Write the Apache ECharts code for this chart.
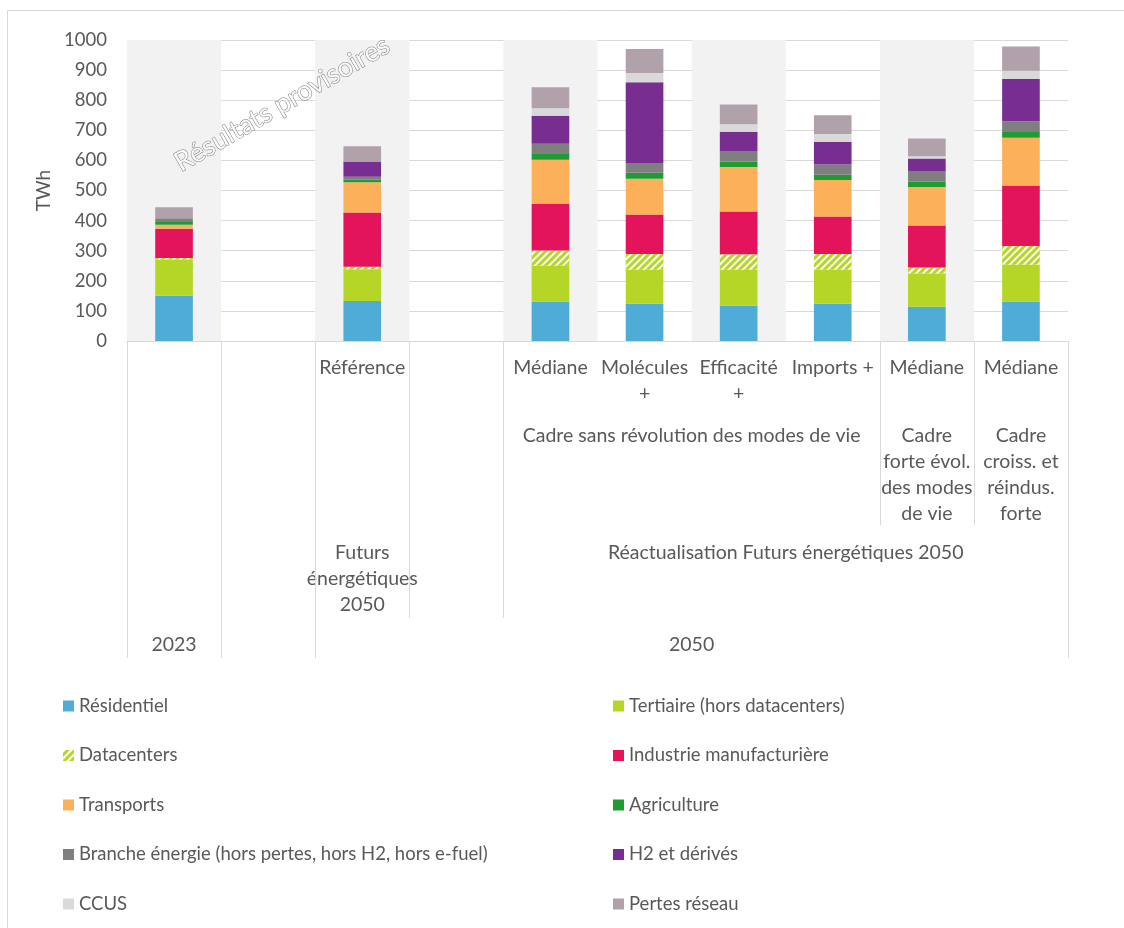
<!DOCTYPE html>
<html>
<head>
<meta charset="utf-8">
<script src="https://cdn.jsdelivr.net/npm/echarts@6/dist/echarts.min.js"></script>
<style>
  html, body { margin: 0; padding: 0; background: #fff; }
  #chart { width: 1124px; height: 928px; }
</style>
</head>
<body>
<div id="chart"></div>
<script>
// niveau 1 : scénarios (une catégorie par barre, 2 colonnes vides servent d'espacement)
const scenarios = ['', '', 'Référence', '', 'Médiane', 'Molécules\n+', 'Efficacité\n+', 'Imports +', 'Médiane', 'Médiane'];
// niveaux supérieurs : [début, fin, texte]
const cadres = [
    [4, 7, 'Cadre sans révolution des modes de vie'],
    [8, 8, 'Cadre\nforte évol.\ndes modes\nde vie'],
    [9, 9, 'Cadre\ncroiss. et\nréindus.\nforte'],
];
const sources = [
    [2, 2, 'Futurs\nénergétiques\n2050'],
    [4, 9, 'Réactualisation Futurs énergétiques 2050'],
];
const years = [
    [0, 0, '2023'],
    [2, 9, '2050'],
];
// séparateurs verticaux : [frontière, nombre de niveaux traversés]
const separators = [[0, 4], [1, 4], [2, 4], [3, 3], [4, 3], [8, 2], [9, 2], [10, 4]];

const yTicks = [0, 100, 200, 300, 400, 500, 600, 700, 800, 900, 1000];

// TWh par poste
const residentiel = [150, null, 133, null, 131, 124, 117, 124, 114, 131];
const tertiaire = [121, null, 105, null, 119, 113, 120, 113, 110, 122];
const datacenters = [5, null, 9, null, 51, 52, 51, 52, 20, 63];
const industrie = [97, null, 180, null, 154, 131, 142, 125, 140, 201];
const transports = [13, null, 100, null, 147, 119, 148, 121, 128, 158];
const agriculture = [9, null, 9, null, 19, 20, 18, 17, 17, 19];
const branche = [13, null, 10, null, 34, 32, 35, 34, 36, 36];
const h2 = [0, null, 50, null, 93, 269, 64, 76, 41, 141];
const ccus = [0, null, 0, null, 25, 30, 25, 26, 8, 27];
const pertes = [36, null, 51, null, 70, 80, 66, 62, 59, 80];

const FONT = 'Lato';
const TXT = '#595959';
const GRID_LINE = '#d9d9d9';

const chart = echarts.init(document.getElementById('chart'));

const mkBar = (name, data, color, extra) => ({
    name: name,
    type: 'bar',
    stack: 'total',
    barWidth: '40%',
    data: data,
    itemStyle: Object.assign({ color: color }, extra || {}),
    emphasis: { disabled: true },
});

// libellés des niveaux de l'axe, placés via l'échelle de l'axe x
const rowTops = [14, 82, 199, 291];
const levelBottoms = [0, 70, 184, 277, 317];
const labelItems = [];
const labelTexts = [];
scenarios.forEach((s, i) => {
    labelItems.push([i, i, 0]);
    labelTexts.push(s);
});
[cadres, sources, years].forEach((lvl, k) => {
    lvl.forEach((g) => {
        labelItems.push([g[0], g[1], k + 1]);
        labelTexts.push(g[2]);
    });
});

const legendText = { color: TXT, fontSize: 18.5, fontFamily: FONT, lineHeight: 20 };

const option = {
    animation: false,
    textStyle: { fontFamily: FONT },
    grid: { left: 127, right: 56, top: 40, bottom: 587 },
    graphic: [
        {
            type: 'rect',
            shape: { x: 7.5, y: 10.5, width: 1200, height: 1000 },
            style: { fill: 'none', stroke: GRID_LINE, lineWidth: 1 },
            silent: true,
        },
        {
            type: 'text',
            x: 282,
            y: 104,
            rotation: Math.PI / 6,
            style: {
                text: 'Résultats provisoires',
                font: '27px ' + FONT,
                fill: 'rgba(255,255,255,0.9)',
                stroke: '#7f7f7f',
                lineWidth: 1,
                align: 'center',
                verticalAlign: 'middle',
            },
            z: 100,
        },
    ],
    legend: [
        {
            orient: 'vertical',
            left: 63,
            top: 696,
            padding: 0,
            itemWidth: 11,
            itemHeight: 11,
            itemGap: 29.5,
            icon: 'rect',
            textStyle: legendText,
            data: ['Résidentiel', 'Datacenters', 'Transports', 'Branche énergie (hors pertes, hors H2, hors e-fuel)', 'CCUS'],
        },
        {
            orient: 'vertical',
            left: 613,
            top: 696,
            padding: 0,
            itemWidth: 11,
            itemHeight: 11,
            itemGap: 29.5,
            icon: 'rect',
            textStyle: legendText,
            data: ['Tertiaire (hors datacenters)', 'Industrie manufacturière', 'Agriculture', 'H2 et dérivés', 'Pertes réseau'],
        },
    ],
    xAxis: {
        type: 'category',
        data: scenarios,
        axisLine: { show: true, lineStyle: { color: GRID_LINE } },
        axisTick: { show: false },
        axisLabel: { show: false },
        splitArea: { show: true, areaStyle: { color: ['#f2f2f2', 'rgba(255,255,255,0)'] } },
    },
    yAxis: {
        type: 'value',
        min: 0,
        max: 1000,
        interval: 100,
        name: 'TWh',
        nameLocation: 'middle',
        nameGap: 72,
        nameTextStyle: { color: TXT, fontSize: 19, fontFamily: FONT },
        axisLine: { show: false },
        axisTick: { show: false },
        axisLabel: {
            color: TXT,
            fontSize: 18.5,
            fontFamily: FONT,
            margin: 20,
            formatter: (v) => (yTicks.indexOf(v) >= 0 ? String(v) : ''),
        },
        splitLine: { lineStyle: { color: GRID_LINE } },
    },
    series: [
        mkBar('Résidentiel', residentiel, '#4eacd7'),
        mkBar('Tertiaire (hors datacenters)', tertiaire, '#b5d627'),
        mkBar('Datacenters', datacenters, '#b5d627', {
            decal: {
                symbol: 'rect',
                symbolSize: 1,
                color: 'rgba(255,255,255,0.95)',
                dashArrayX: [1, 0],
                dashArrayY: [2, 3],
                rotation: -Math.PI / 4,
            },
        }),
        mkBar('Industrie manufacturière', industrie, '#e3135c'),
        mkBar('Transports', transports, '#fdb05a'),
        mkBar('Agriculture', agriculture, '#1e9b32'),
        mkBar('Branche énergie (hors pertes, hors H2, hors e-fuel)', branche, '#7f7f7f'),
        mkBar('H2 et dérivés', h2, '#782e91'),
        mkBar('CCUS', ccus, '#d9d9d9'),
        mkBar('Pertes réseau', pertes, '#b0a1aa'),
        {
            // libellés multi-niveaux sous l'axe
            type: 'custom',
            clip: false,
            silent: true,
            encode: { x: [0, 1], y: 2 },
            data: labelItems,
            renderItem: (params, api) => {
                const x0 = api.coord([api.value(0), 0])[0];
                const x1 = api.coord([api.value(1), 0])[0];
                const cs = params.coordSys;
                return {
                    type: 'text',
                    x: (x0 + x1) / 2,
                    y: cs.y + cs.height + rowTops[api.value(2)],
                    style: {
                        text: labelTexts[params.dataIndex],
                        align: 'center',
                        verticalAlign: 'top',
                        font: '19.5px ' + FONT,
                        lineHeight: 26,
                        fill: TXT,
                    },
                };
            },
        },
        {
            // traits de séparation des groupes
            type: 'custom',
            clip: false,
            silent: true,
            encode: { x: 0, y: 1 },
            data: separators,
            renderItem: (params, api) => {
                const cs = params.coordSys;
                const b = api.value(0);
                const bw = api.size([1, 0])[0];
                const x = b < scenarios.length
                    ? api.coord([b, 0])[0] - bw / 2
                    : api.coord([scenarios.length - 1, 0])[0] + bw / 2;
                const xc = Math.round(x) + 0.5;
                const yTop = cs.y + cs.height;
                return {
                    type: 'line',
                    shape: { x1: xc, y1: yTop, x2: xc, y2: yTop + levelBottoms[api.value(1)] },
                    style: { stroke: GRID_LINE, lineWidth: 1 },
                };
            },
        },
    ],
};

chart.setOption(option);
</script>
</body>
</html>
